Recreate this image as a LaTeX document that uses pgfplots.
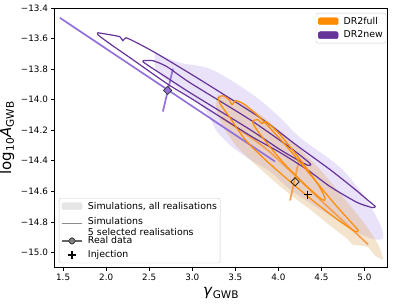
\documentclass[border=0pt]{standalone}
\usepackage{fontspec}
\setmainfont{DejaVu Sans}
\usepackage{pgfplots}
\pgfplotsset{compat=1.18}
\definecolor{dorange}{HTML}{FF8C00}
\definecolor{dpurple}{HTML}{663399}
\definecolor{lpurple}{HTML}{9370DB}
\definecolor{lorange}{HTML}{F5A050}
\definecolor{pshade}{HTML}{E9E2F8}
\definecolor{oshade}{HTML}{DDA962}
\pgfplotsset{mylegend/.style={legend cell align=left,
   legend style={draw=black!20, rounded corners=2pt, fill=white, fill opacity=0.8, text opacity=1,
   font=\fontsize{9.4}{10.5}\selectfont, inner xsep=2pt, inner ysep=2.5pt, row sep=3pt,
   nodes={inner sep=1.2pt},
   /tikz/every odd column/.append style={column sep=4pt}}}}
\begin{document}
\begin{tikzpicture}
\begin{axis}[name=main, scale only axis, width=333.2pt, height=259.7pt,
 xmin=1.4, xmax=5.27, ymin=-15.1, ymax=-13.4,
 xtick={1.5,2.0,2.5,3.0,3.5,4.0,4.5,5.0},
 xticklabels={1.5,2.0,2.5,3.0,3.5,4.0,4.5,5.0},
 ytick={-15.0,-14.8,-14.6,-14.4,-14.2,-14.0,-13.8,-13.6,-13.4},
 yticklabels={−15.0,−14.8,−14.6,−14.4,−14.2,−14.0,−13.8,−13.6,−13.4},
 tick align=outside, tick pos=left, major tick length=3pt,
 axis line style={line width=0.7pt},
 every tick/.style={black, line width=0.7pt},
 ticklabel style={font=\fontsize{8.8}{10}\selectfont},
 xlabel={\fontsize{15}{18}\selectfont\textit{γ}\textsubscript{GWB}},
 ylabel={\fontsize{15}{18}\selectfont log\textsubscript{10}\textit{A}\textsubscript{GWB}},
 mylegend,
 legend style={at={(0,0)}, anchor=south west, xshift=4.5pt, yshift=4.5pt},
]
% shades
\addplot[forget plot, fill=pshade, draw=none, smooth, tension=0.5] coordinates {
(2.566,-13.693) (2.857,-13.758) (3.171,-13.791) (3.438,-13.869) (3.752,-13.987)
(4.020,-14.118) (4.252,-14.248) (4.717,-14.444) (5.008,-14.641) (5.182,-14.817)
(5.217,-14.902) (5.124,-14.915) (4.892,-14.863) (4.485,-14.719) (4.136,-14.588)
(3.903,-14.471) (3.671,-14.392) (3.473,-14.314) (3.287,-14.209) (3.206,-14.118)
(3.090,-14.033) (2.857,-13.935) (2.590,-13.817) (2.566,-13.693)};
\addplot[forget plot, fill=oshade, fill opacity=0.32, draw=none, smooth, tension=0.4] coordinates {
(3.299,-13.967) (3.497,-14.000) (3.787,-14.098) (4.136,-14.261) (4.485,-14.458)
(4.776,-14.654) (5.008,-14.817) (5.159,-14.948) (5.217,-15.046) (5.124,-15.020)
(5.043,-14.967) (4.950,-14.954) (4.857,-14.948) (4.810,-14.915) (4.601,-14.824)
(4.369,-14.719) (4.136,-14.621) (3.903,-14.510) (3.671,-14.392) (3.497,-14.294)
(3.345,-14.163) (3.276,-14.052) (3.299,-13.967)};
% light (simulation) lines
\addplot[forget plot, lpurple, line width=1.7pt] coordinates {(1.462,-13.464) (3.962,-14.405)};
\addplot[forget plot, lpurple, line width=1.7pt] coordinates {(2.776,-13.797) (2.659,-14.078)};
\addplot[forget plot, lorange, line width=1.7pt, smooth, tension=0.4] coordinates {(3.345,-14.118) (3.869,-14.327) (4.485,-14.654) (5.043,-14.948)};
\addplot[forget plot, lorange, line width=1.7pt] coordinates {(4.241,-14.392) (4.136,-14.660)};
% DR2new real data contours
\addplot[forget plot, dpurple, line width=1.2pt, smooth, tension=0.4] coordinates {
(1.904,-13.562) (2.043,-13.575) (2.159,-13.588) (2.194,-13.614) (2.229,-13.595)
(2.334,-13.621) (2.590,-13.699) (3.090,-13.869) (3.787,-14.118) (4.217,-14.301)
(4.601,-14.458) (4.892,-14.588) (5.043,-14.660) (5.124,-14.699) (5.090,-14.706)
(4.915,-14.673) (4.601,-14.569) (4.334,-14.458) (4.020,-14.346) (3.671,-14.235)
(2.973,-13.987) (2.706,-13.895) (2.276,-13.725) (2.043,-13.634) (1.904,-13.575)
(1.904,-13.562)};
\addplot[forget plot, dpurple, line width=1.2pt, smooth, tension=0.4] coordinates {
(2.427,-13.745) (2.543,-13.745) (2.706,-13.784) (2.973,-13.889) (3.671,-14.131)
(4.136,-14.314) (4.369,-14.418) (4.322,-14.425) (4.020,-14.327) (3.671,-14.196)
(2.973,-13.954) (2.706,-13.856) (2.508,-13.784) (2.427,-13.752) (2.427,-13.745)};
% DR2full real data contours
\addplot[forget plot, dorange, line width=1.2pt, smooth, tension=0.4] coordinates {
(3.299,-13.987) (3.357,-13.974) (3.427,-14.000) (3.462,-14.033) (3.508,-14.007)
(3.613,-14.033) (3.810,-14.131) (4.078,-14.294) (4.369,-14.490) (4.659,-14.686)
(4.857,-14.810) (4.927,-14.856) (4.892,-14.863) (4.717,-14.797) (4.427,-14.673)
(4.136,-14.536) (3.845,-14.392) (3.613,-14.261) (3.438,-14.118) (3.322,-14.026)
(3.299,-13.987)};
\addplot[forget plot, dorange, line width=1.2pt, smooth, tension=0.4] coordinates {
(3.706,-14.137) (3.764,-14.131) (3.810,-14.157) (3.857,-14.144) (4.020,-14.229)
(4.252,-14.392) (4.462,-14.556) (4.543,-14.647) (4.508,-14.654) (4.310,-14.556)
(4.078,-14.425) (3.880,-14.294) (3.764,-14.209) (3.706,-14.157) (3.706,-14.137)};
% markers
\addplot[forget plot, only marks, mark=square*, mark size=2.9pt, mark options={rotate=45, fill=lpurple, draw=black!80, line width=0.7pt}] coordinates {(2.714,-13.939)};
\addplot[forget plot, only marks, mark=square, mark size=2.9pt, mark options={rotate=45, draw=black!75!brown, line width=0.8pt}] coordinates {(4.194,-14.538)};
\addplot[forget plot, only marks, mark=+, mark size=4pt, mark options={black, line width=1.3pt}] coordinates {(4.342,-14.621)};
% legend (lower left)
\addlegendimage{legend image code/.code={\fill[black!10, fill opacity=1] (0pt,-3.5pt) rectangle (20pt,3.5pt);}}
\addlegendentry{Simulations, all realisations}
\addlegendimage{legend image code/.code={\draw[black!45, line width=1.6pt, draw opacity=1] (0pt,0pt) -- (20pt,0pt);}}
\addlegendentry{\begin{tabular}{@{}l@{}}\rule{0pt}{9pt}Simulations\\5 selected realisations\rule[-3.5pt]{0pt}{3.5pt}\end{tabular}}
\addlegendimage{legend image code/.code={\draw[black!60, line width=1.6pt, draw opacity=1] (0pt,0pt) -- (20pt,0pt); \filldraw[fill=black!50, draw=black!80, line width=0.7pt, fill opacity=1, draw opacity=1] (10pt,4pt) -- (14pt,0pt) -- (10pt,-4pt) -- (6pt,0pt) -- cycle;}}
\addlegendentry{Real data}
\addlegendimage{legend image code/.code={\draw[black, line width=1.3pt, draw opacity=1] (6pt,0pt) -- (14pt,0pt) (10pt,-4pt) -- (10pt,4pt);}}
\addlegendentry{Injection}
\end{axis}
\begin{axis}[at={(main.south west)}, anchor=south west, scale only axis, width=333.2pt, height=259.7pt,
 hide axis, xmin=0, xmax=1, ymin=0, ymax=1,
 mylegend,
 legend style={at={(1,1)}, anchor=north east, xshift=-1.5pt, yshift=-5pt}]
\addlegendimage{legend image code/.code={\fill[dorange, fill opacity=1] (0pt,-3.5pt) rectangle (20pt,3.5pt);}}
\addlegendentry{DR2full}
\addlegendimage{legend image code/.code={\fill[dpurple, fill opacity=1] (0pt,-3.5pt) rectangle (20pt,3.5pt);}}
\addlegendentry{DR2new}
\end{axis}
\pgfresetboundingbox
\path[use as bounding box] ([shift={(-54.5pt,-35.3pt)}]main.south west) rectangle ([shift={(8.3pt,8pt)}]main.north east);
\end{tikzpicture}
\end{document}
